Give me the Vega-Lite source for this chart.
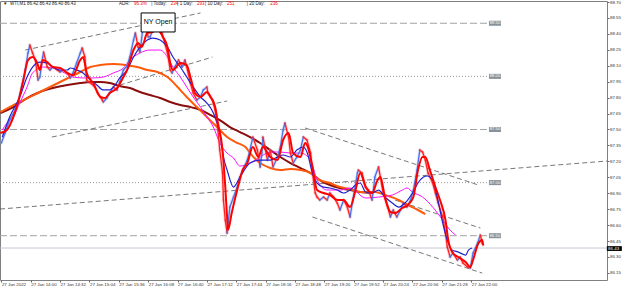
{
  "$schema": "https://vega.github.io/schema/vega-lite/v6.json",
  "autosize": "none",
  "padding": {"left": 0, "top": 1, "right": 18, "bottom": 10},
  "width": 607,
  "height": 279,
  "background": "white",
  "view": {"stroke": "#808080", "strokeWidth": 1},
  "config": {
    "view": {"stroke": "#808080", "strokeWidth": 1},
    "axis": {"grid": false, "domain": false, "labelFont": "Liberation Sans", "labelColor": "#333333", "tickColor": "#666666", "tickSize": 2}
  },
  "datasets": {
    "price": [
      {"t":808,"p":87.372},{"t":812,"p":87.467},{"t":817,"p":87.589},{"t":823,"p":87.683},{"t":826,"p":87.749},{"t":830,"p":87.900},{"t":834,"p":88.060},{"t":837,"p":88.220},{"t":839,"p":88.295},{"t":842,"p":88.220},{"t":845,"p":88.154},{"t":848,"p":87.966},{"t":850,"p":87.994},{"t":853,"p":88.182},{"t":854,"p":88.229},{"t":858,"p":88.088},{"t":861,"p":88.060},{"t":864,"p":88.088},{"t":869,"p":88.060},{"t":872,"p":88.041},{"t":875,"p":88.060},{"t":880,"p":88.032},{"t":883,"p":87.985},{"t":886,"p":88.032},{"t":890,"p":88.126},{"t":894,"p":88.220},{"t":896,"p":88.267},{"t":899,"p":88.182},{"t":901,"p":87.966},{"t":905,"p":87.937},{"t":910,"p":87.900},{"t":913,"p":87.843},{"t":918,"p":87.777},{"t":919,"p":87.759},{"t":923,"p":87.796},{"t":926,"p":87.843},{"t":930,"p":87.900},{"t":934,"p":87.872},{"t":937,"p":87.947},{"t":941,"p":88.060},{"t":945,"p":88.098},{"t":948,"p":88.182},{"t":952,"p":88.342},{"t":954,"p":88.408},{"t":957,"p":88.276},{"t":959,"p":88.229},{"t":962,"p":88.437},{"t":965,"p":88.484},{"t":968,"p":88.371},{"t":970,"p":88.371},{"t":973,"p":88.437},{"t":976,"p":88.502},{"t":979,"p":88.437},{"t":983,"p":88.408},{"t":986,"p":88.314},{"t":989,"p":88.220},{"t":992,"p":88.060},{"t":994,"p":88.032},{"t":997,"p":88.088},{"t":1001,"p":88.154},{"t":1005,"p":88.088},{"t":1008,"p":88.154},{"t":1010,"p":88.088},{"t":1014,"p":87.937},{"t":1017,"p":87.843},{"t":1021,"p":87.777},{"t":1025,"p":87.806},{"t":1028,"p":87.872},{"t":1032,"p":87.900},{"t":1033,"p":87.843},{"t":1038,"p":87.777},{"t":1041,"p":87.683},{"t":1044,"p":87.495},{"t":1046,"p":87.307},{"t":1049,"p":87.090},{"t":1050,"p":86.836},{"t":1052,"p":86.647},{"t":1054,"p":86.525},{"t":1057,"p":86.770},{"t":1061,"p":86.864},{"t":1065,"p":86.958},{"t":1068,"p":87.052},{"t":1071,"p":87.118},{"t":1076,"p":87.212},{"t":1079,"p":87.307},{"t":1082,"p":87.429},{"t":1087,"p":87.307},{"t":1090,"p":87.147},{"t":1092,"p":87.278},{"t":1093,"p":87.429},{"t":1098,"p":87.212},{"t":1101,"p":87.307},{"t":1104,"p":87.147},{"t":1109,"p":87.241},{"t":1112,"p":87.335},{"t":1115,"p":87.495},{"t":1117,"p":87.561},{"t":1121,"p":87.429},{"t":1123,"p":87.278},{"t":1126,"p":87.184},{"t":1130,"p":87.241},{"t":1134,"p":87.307},{"t":1137,"p":87.429},{"t":1141,"p":87.401},{"t":1145,"p":87.278},{"t":1147,"p":87.090},{"t":1150,"p":86.902},{"t":1152,"p":86.864},{"t":1155,"p":86.836},{"t":1159,"p":86.864},{"t":1163,"p":86.836},{"t":1166,"p":86.902},{"t":1170,"p":86.864},{"t":1174,"p":86.808},{"t":1177,"p":86.742},{"t":1181,"p":86.836},{"t":1185,"p":86.770},{"t":1188,"p":86.676},{"t":1191,"p":86.836},{"t":1196,"p":87.090},{"t":1197,"p":87.118},{"t":1201,"p":87.090},{"t":1205,"p":86.958},{"t":1208,"p":86.930},{"t":1212,"p":86.836},{"t":1215,"p":87.052},{"t":1219,"p":87.147},{"t":1221,"p":87.052},{"t":1224,"p":86.902},{"t":1229,"p":86.770},{"t":1232,"p":86.676},{"t":1235,"p":86.742},{"t":1239,"p":86.676},{"t":1243,"p":86.742},{"t":1246,"p":86.808},{"t":1250,"p":86.770},{"t":1254,"p":86.836},{"t":1257,"p":86.930},{"t":1261,"p":87.118},{"t":1264,"p":87.307},{"t":1267,"p":87.288},{"t":1270,"p":87.212},{"t":1273,"p":87.090},{"t":1278,"p":86.996},{"t":1281,"p":86.902},{"t":1284,"p":86.808},{"t":1289,"p":86.676},{"t":1292,"p":86.525},{"t":1294,"p":86.393},{"t":1297,"p":86.299},{"t":1300,"p":86.337},{"t":1305,"p":86.271},{"t":1308,"p":86.299},{"t":1311,"p":86.243},{"t":1316,"p":86.205},{"t":1319,"p":86.196},{"t":1322,"p":86.337},{"t":1327,"p":86.431},{"t":1330,"p":86.506},{"t":1332,"p":86.431},{"t":1333,"p":86.412}
    ],
    "red": [
      {"t":807,"p":87.467},{"t":814,"p":87.495},{"t":821,"p":87.617},{"t":826,"p":87.749},{"t":832,"p":87.966},{"t":837,"p":88.154},{"t":842,"p":88.182},{"t":847,"p":88.126},{"t":850,"p":88.060},{"t":853,"p":88.154},{"t":858,"p":88.135},{"t":864,"p":88.088},{"t":872,"p":88.079},{"t":880,"p":88.032},{"t":886,"p":88.013},{"t":894,"p":88.154},{"t":897,"p":88.182},{"t":901,"p":88.032},{"t":908,"p":87.937},{"t":916,"p":87.806},{"t":921,"p":87.796},{"t":926,"p":87.843},{"t":934,"p":87.890},{"t":941,"p":87.994},{"t":945,"p":88.060},{"t":952,"p":88.248},{"t":957,"p":88.314},{"t":961,"p":88.276},{"t":967,"p":88.408},{"t":973,"p":88.418},{"t":978,"p":88.455},{"t":981,"p":88.418},{"t":984,"p":88.371},{"t":989,"p":88.276},{"t":992,"p":88.126},{"t":995,"p":88.060},{"t":1003,"p":88.126},{"t":1010,"p":88.107},{"t":1014,"p":87.994},{"t":1019,"p":87.843},{"t":1025,"p":87.806},{"t":1032,"p":87.853},{"t":1036,"p":87.806},{"t":1041,"p":87.711},{"t":1044,"p":87.561},{"t":1049,"p":87.307},{"t":1052,"p":86.958},{"t":1054,"p":86.676},{"t":1055,"p":86.553},{"t":1059,"p":86.713},{"t":1065,"p":86.930},{"t":1071,"p":87.118},{"t":1076,"p":87.184},{"t":1082,"p":87.335},{"t":1088,"p":87.241},{"t":1093,"p":87.335},{"t":1101,"p":87.241},{"t":1109,"p":87.212},{"t":1115,"p":87.401},{"t":1121,"p":87.467},{"t":1126,"p":87.278},{"t":1134,"p":87.241},{"t":1139,"p":87.373},{"t":1142,"p":87.335},{"t":1147,"p":87.147},{"t":1152,"p":86.930},{"t":1159,"p":86.902},{"t":1166,"p":86.883},{"t":1174,"p":86.836},{"t":1181,"p":86.836},{"t":1188,"p":86.770},{"t":1194,"p":86.930},{"t":1199,"p":87.090},{"t":1205,"p":86.958},{"t":1212,"p":86.902},{"t":1218,"p":87.024},{"t":1221,"p":87.052},{"t":1226,"p":86.864},{"t":1232,"p":86.723},{"t":1237,"p":86.713},{"t":1245,"p":86.761},{"t":1251,"p":86.789},{"t":1257,"p":86.864},{"t":1262,"p":87.118},{"t":1267,"p":87.241},{"t":1270,"p":87.241},{"t":1275,"p":87.118},{"t":1281,"p":86.958},{"t":1286,"p":86.836},{"t":1292,"p":86.647},{"t":1295,"p":86.459},{"t":1300,"p":86.337},{"t":1306,"p":86.299},{"t":1314,"p":86.252},{"t":1319,"p":86.205},{"t":1322,"p":86.271},{"t":1328,"p":86.431},{"t":1332,"p":86.459},{"t":1333,"p":86.412}
    ],
    "blue": [
      {"t":809,"p":87.429},{"t":817,"p":87.617},{"t":828,"p":87.806},{"t":836,"p":87.994},{"t":842,"p":88.088},{"t":850,"p":88.135},{"t":858,"p":88.126},{"t":864,"p":88.088},{"t":872,"p":88.060},{"t":880,"p":88.060},{"t":883,"p":88.079},{"t":890,"p":88.060},{"t":897,"p":88.032},{"t":905,"p":87.966},{"t":912,"p":87.919},{"t":919,"p":87.872},{"t":926,"p":87.872},{"t":932,"p":87.919},{"t":937,"p":87.985},{"t":945,"p":88.060},{"t":952,"p":88.182},{"t":959,"p":88.276},{"t":967,"p":88.342},{"t":973,"p":88.361},{"t":981,"p":88.342},{"t":989,"p":88.276},{"t":995,"p":88.182},{"t":1003,"p":88.088},{"t":1010,"p":87.994},{"t":1017,"p":87.900},{"t":1025,"p":87.806},{"t":1032,"p":87.749},{"t":1039,"p":87.655},{"t":1046,"p":87.467},{"t":1050,"p":87.241},{"t":1054,"p":87.118},{"t":1061,"p":86.958},{"t":1068,"p":87.052},{"t":1079,"p":87.184},{"t":1090,"p":87.212},{"t":1101,"p":87.212},{"t":1109,"p":87.241},{"t":1115,"p":87.260},{"t":1123,"p":87.241},{"t":1130,"p":87.307},{"t":1137,"p":87.335},{"t":1141,"p":87.288},{"t":1147,"p":87.090},{"t":1152,"p":86.996},{"t":1159,"p":86.958},{"t":1166,"p":86.949},{"t":1174,"p":86.930},{"t":1181,"p":86.902},{"t":1188,"p":86.930},{"t":1194,"p":86.977},{"t":1199,"p":86.996},{"t":1205,"p":86.911},{"t":1212,"p":86.902},{"t":1219,"p":86.930},{"t":1226,"p":86.864},{"t":1234,"p":86.808},{"t":1241,"p":86.770},{"t":1248,"p":86.808},{"t":1256,"p":86.902},{"t":1262,"p":86.996},{"t":1268,"p":87.052},{"t":1272,"p":87.062},{"t":1278,"p":87.024},{"t":1283,"p":86.864},{"t":1289,"p":86.619},{"t":1294,"p":86.459},{"t":1299,"p":86.365},{"t":1306,"p":86.346},{"t":1314,"p":86.318},{"t":1317,"p":86.365},{"t":1321,"p":86.384}
    ],
    "magenta": [
      {"t":809,"p":87.495},{"t":814,"p":87.561},{"t":821,"p":87.617},{"t":828,"p":87.749},{"t":836,"p":87.900},{"t":842,"p":88.032},{"t":853,"p":88.088},{"t":864,"p":88.079},{"t":875,"p":88.041},{"t":886,"p":87.994},{"t":897,"p":87.985},{"t":908,"p":87.985},{"t":919,"p":87.994},{"t":930,"p":88.032},{"t":941,"p":88.079},{"t":948,"p":88.154},{"t":959,"p":88.220},{"t":970,"p":88.248},{"t":981,"p":88.248},{"t":989,"p":88.182},{"t":995,"p":88.088},{"t":1003,"p":87.994},{"t":1010,"p":87.900},{"t":1017,"p":87.806},{"t":1025,"p":87.711},{"t":1032,"p":87.617},{"t":1039,"p":87.523},{"t":1046,"p":87.373},{"t":1054,"p":87.278},{"t":1061,"p":87.231},{"t":1068,"p":87.156},{"t":1079,"p":87.184},{"t":1090,"p":87.241},{"t":1101,"p":87.288},{"t":1112,"p":87.288},{"t":1123,"p":87.278},{"t":1134,"p":87.278},{"t":1145,"p":87.212},{"t":1152,"p":87.024},{"t":1163,"p":86.930},{"t":1177,"p":86.930},{"t":1188,"p":86.949},{"t":1205,"p":86.855},{"t":1219,"p":86.864},{"t":1234,"p":86.883},{"t":1245,"p":86.930},{"t":1250,"p":86.949},{"t":1256,"p":86.911},{"t":1267,"p":86.864},{"t":1278,"p":86.770},{"t":1289,"p":86.647},{"t":1297,"p":86.553},{"t":1303,"p":86.506}
    ],
    "orange": [
      {"t":807,"p":87.664},{"t":828,"p":87.759},{"t":850,"p":87.853},{"t":872,"p":87.947},{"t":894,"p":88.041},{"t":905,"p":88.088},{"t":916,"p":88.107},{"t":930,"p":88.116},{"t":943,"p":88.107},{"t":956,"p":88.088},{"t":967,"p":88.060},{"t":978,"p":88.041},{"t":989,"p":87.994},{"t":1000,"p":87.900},{"t":1010,"p":87.806},{"t":1021,"p":87.711},{"t":1032,"p":87.617},{"t":1043,"p":87.523},{"t":1054,"p":87.429},{"t":1065,"p":87.373},{"t":1074,"p":87.335},{"t":1079,"p":87.278},{"t":1090,"p":87.184},{"t":1101,"p":87.137},{"t":1112,"p":87.118},{"t":1123,"p":87.128},{"t":1134,"p":87.118},{"t":1145,"p":87.090},{"t":1155,"p":87.024},{"t":1166,"p":86.996},{"t":1177,"p":86.958},{"t":1188,"p":86.939},{"t":1199,"p":86.911},{"t":1215,"p":86.911},{"t":1226,"p":86.883},{"t":1241,"p":86.836},{"t":1251,"p":86.789},{"t":1262,"p":86.742},{"t":1270,"p":86.704}
    ],
    "brown": [
      {"t":807,"p":87.655},{"t":821,"p":87.711},{"t":836,"p":87.796},{"t":850,"p":87.853},{"t":864,"p":87.890},{"t":880,"p":87.919},{"t":894,"p":87.937},{"t":905,"p":87.947},{"t":916,"p":87.947},{"t":926,"p":87.937},{"t":937,"p":87.909},{"t":948,"p":87.890},{"t":959,"p":87.853},{"t":970,"p":87.824},{"t":981,"p":87.796},{"t":992,"p":87.759},{"t":1003,"p":87.730},{"t":1014,"p":87.711},{"t":1025,"p":87.683},{"t":1036,"p":87.636},{"t":1046,"p":87.589},{"t":1057,"p":87.523},{"t":1068,"p":87.476},{"t":1079,"p":87.429},{"t":1090,"p":87.373},{"t":1101,"p":87.307},{"t":1112,"p":87.241},{"t":1123,"p":87.184},{"t":1134,"p":87.137},{"t":1145,"p":87.090},{"t":1155,"p":87.024},{"t":1166,"p":86.977},{"t":1177,"p":86.949},{"t":1188,"p":86.930},{"t":1199,"p":86.911},{"t":1212,"p":86.902}
    ],
    "trend": [
      {"t":834,"p":88.248,"t2":1025,"p2":88.597},
      {"t":937,"p":87.918,"t2":1038,"p2":88.182},
      {"t":863,"p":87.429,"t2":1054,"p2":87.768},
      {"t":806.5,"p":86.751,"t2":1468,"p2":87.203},
      {"t":1139,"p":87.514,"t2":1328,"p2":86.977},
      {"t":1237,"p":86.836,"t2":1330,"p2":86.572},
      {"t":1147,"p":86.676,"t2":1332,"p2":86.148}
    ],
    "levels": [
      {"t":806.5,"t2":1339.8,"p":88.5,"style":"dash"},
      {"t":806.5,"t2":1339.8,"p":88.0,"style":"dot"},
      {"t":806.5,"t2":1339.8,"p":87.5,"style":"dash"},
      {"t":806.5,"t2":1339.8,"p":87.0,"style":"dot"},
      {"t":806.5,"t2":1339.8,"p":86.5,"style":"dash"}
    ],
    "levelLabels": [
      {"t":1345.9,"p":88.5,"lbl":"88.50"},
      {"t":1345.9,"p":88.0,"lbl":"88.00"},
      {"t":1345.9,"p":87.5,"lbl":"87.50"},
      {"t":1345.9,"p":87.0,"lbl":"87.00"},
      {"t":1345.9,"p":86.5,"lbl":"86.50"}
    ],
    "hdr": [
      {"t":809.8,"p":88.677,"txt":"▼","k":"k"},
      {"t":817.4,"p":88.677,"txt":"WTI,M1  86.42 86.43 86.40 86.43","k":"k"},
      {"t":936.3,"p":88.677,"txt":"ADR:","k":"k"},
      {"t":952.6,"p":88.677,"txt":"96.3%","k":"v"},
      {"t":971.2,"p":88.677,"txt":"| Today:","k":"k"},
      {"t":992.5,"p":88.677,"txt":"234","k":"v"},
      {"t":999.8,"p":88.677,"txt":"| 1 Day:","k":"k"},
      {"t":1021.3,"p":88.677,"txt":"293","k":"v"},
      {"t":1030,"p":88.677,"txt":"| 10 Day:","k":"k"},
      {"t":1054,"p":88.677,"txt":"251","k":"v"},
      {"t":1075.5,"p":88.677,"txt":"| 20 Day:","k":"k"},
      {"t":1101,"p":88.677,"txt":"236","k":"v"}
    ]
  },
  "encoding": {
    "x": {"field": "t", "type": "quantitative", "title": null,
      "scale": {"domain": [806.5, 1468], "nice": false, "zero": false},
      "axis": {"orient": "bottom", "values": [808, 840, 872, 904, 936, 968, 1000, 1032, 1064, 1096, 1128, 1160, 1192, 1224, 1256, 1288, 1320],
        "labelAlign": "left", "labelBaseline": "top", "labelPadding": 0.5, "labelFontSize": 4.4, "labelOverlap": false, "labelFlush": false,
        "labelExpr": "datum.value == 808 ? '27 Jan 2022' : '27 Jan ' + floor(datum.value/60) + ':' + (datum.value % 60 < 10 ? '0' : '') + (datum.value % 60)"}},
    "y": {"field": "p", "type": "quantitative", "title": null,
      "scale": {"domain": [86.083, 88.7096], "nice": false, "zero": false},
      "axis": {"orient": "right", "values": [88.7, 88.55, 88.4, 88.25, 88.1, 87.95, 87.8, 87.65, 87.5, 87.35, 87.2, 87.05, 86.9, 86.75, 86.6, 86.45, 86.3, 86.15],
        "format": ".2f", "labelAlign": "left", "labelPadding": 0.5, "labelFontSize": 4.4, "labelOverlap": false, "labelFlush": false}}
  },
  "layer": [
    {
      "data": {"name": "levels"},
      "transform": [{"filter": "datum.style == 'dash'"}],
      "mark": {"type": "rule", "stroke": "#a3a3a3", "strokeWidth": 1, "strokeDash": [7, 3]},
      "encoding": {"x2": {"field": "t2"}}
    },
    {
      "data": {"name": "levels"},
      "transform": [{"filter": "datum.style == 'dot'"}],
      "mark": {"type": "rule", "stroke": "#9a9a9a", "strokeWidth": 1, "strokeDash": [1, 2]},
      "encoding": {"x2": {"field": "t2"}}
    },
    {
      "data": {"name": "levelLabels"},
      "mark": {"type": "point", "filled": true, "color": "#88929a", "opacity": 1, "strokeWidth": 0, "size": 144, "shape": "M-1,-0.42H1V0.42H-1Z"}
    },
    {
      "data": {"name": "levelLabels"},
      "mark": {"type": "text", "font": "Liberation Sans", "fontSize": 4.2, "color": "white", "align": "center", "baseline": "middle"},
      "encoding": {"text": {"field": "lbl"}}
    },
    {
      "data": {"values": [{"t": 806.5, "t2": 1468, "p": 86.384}]},
      "mark": {"type": "rule", "stroke": "#c4ccd4", "strokeWidth": 1},
      "encoding": {"x2": {"field": "t2"}}
    },
    {
      "data": {"name": "trend"},
      "mark": {"type": "rule", "stroke": "#555555", "strokeWidth": 0.8, "strokeDash": [5, 3]},
      "encoding": {"x2": {"field": "t2"}, "y2": {"field": "p2"}}
    },
    {
      "data": {"name": "brown"},
      "mark": {"type": "line", "stroke": "#8b0d0d", "strokeWidth": 2, "interpolate": "monotone"}
    },
    {
      "data": {"name": "orange"},
      "mark": {"type": "line", "stroke": "#ff5a0a", "strokeWidth": 2, "interpolate": "monotone"}
    },
    {
      "data": {"name": "magenta"},
      "mark": {"type": "line", "stroke": "#ff10ff", "strokeWidth": 1, "interpolate": "monotone"}
    },
    {
      "data": {"name": "price"},
      "transform": [
        {"window": [{"op": "lag", "field": "t", "as": "t0"}, {"op": "lag", "field": "p", "as": "p0"}], "sort": [{"field": "t", "order": "ascending"}]},
        {"filter": "isValid(datum.t0)"}
      ],
      "mark": {"type": "rule", "strokeWidth": 3, "opacity": 0.3, "strokeCap": "round"},
      "encoding": {"x2": {"field": "t0"}, "y2": {"field": "p0"},
        "color": {"condition": {"test": "datum.p < datum.p0", "value": "#ff6060"}, "value": "#7f9ff0"}}
    },
    {
      "data": {"name": "price"},
      "transform": [
        {"window": [{"op": "lag", "field": "t", "as": "t0"}, {"op": "lag", "field": "p", "as": "p0"}], "sort": [{"field": "t", "order": "ascending"}]},
        {"filter": "isValid(datum.t0)"}
      ],
      "mark": {"type": "rule", "strokeWidth": 1.3, "strokeCap": "round"},
      "encoding": {"x2": {"field": "t0"}, "y2": {"field": "p0"},
        "color": {"condition": {"test": "datum.p < datum.p0", "value": "#ff2020"}, "value": "#4d72e6"}}
    },
    {
      "data": {"name": "blue"},
      "mark": {"type": "line", "stroke": "#2222cc", "strokeWidth": 1.2, "interpolate": "monotone"}
    },
    {
      "data": {"name": "red"},
      "mark": {"type": "line", "stroke": "#ff0000", "strokeWidth": 2, "interpolate": "monotone"}
    },
    {
      "data": {"values": [{"t": 960.3, "t2": 997.3, "p": 88.418, "p2": 88.597}]},
      "mark": {"type": "rect", "fill": "white", "stroke": "#000000", "strokeWidth": 1},
      "encoding": {"x2": {"field": "t2"}, "y2": {"field": "p2"}}
    },
    {
      "data": {"values": [{"t": 978.8, "p": 88.51, "txt": "NY Open"}]},
      "mark": {"type": "text", "font": "Liberation Sans", "fontSize": 7, "color": "#000000", "align": "center", "baseline": "middle"},
      "encoding": {"text": {"field": "txt"}}
    },
    {
      "data": {"name": "hdr"},
      "mark": {"type": "text", "font": "Liberation Sans", "fontSize": 4.5, "align": "left", "baseline": "middle"},
      "encoding": {"text": {"field": "txt"},
        "color": {"field": "k", "type": "nominal", "scale": {"domain": ["k", "v"], "range": ["#222222", "#ff0000"]}, "legend": null}}
    },
    {
      "data": {"values": [{"t": 1476, "p": 86.379, "txt": "86.43"}]},
      "mark": {"type": "point", "filled": true, "color": "#000000", "opacity": 1, "strokeWidth": 0, "size": 225, "shape": "M-1,-0.32H1V0.32H-1Z", "clip": false}
    },
    {
      "data": {"values": [{"t": 1469.2, "p": 86.379, "txt": "86.43"}]},
      "mark": {"type": "text", "font": "Liberation Sans", "fontSize": 4.4, "color": "white", "align": "left", "baseline": "middle", "clip": false},
      "encoding": {"text": {"field": "txt"}}
    }
  ]
}
